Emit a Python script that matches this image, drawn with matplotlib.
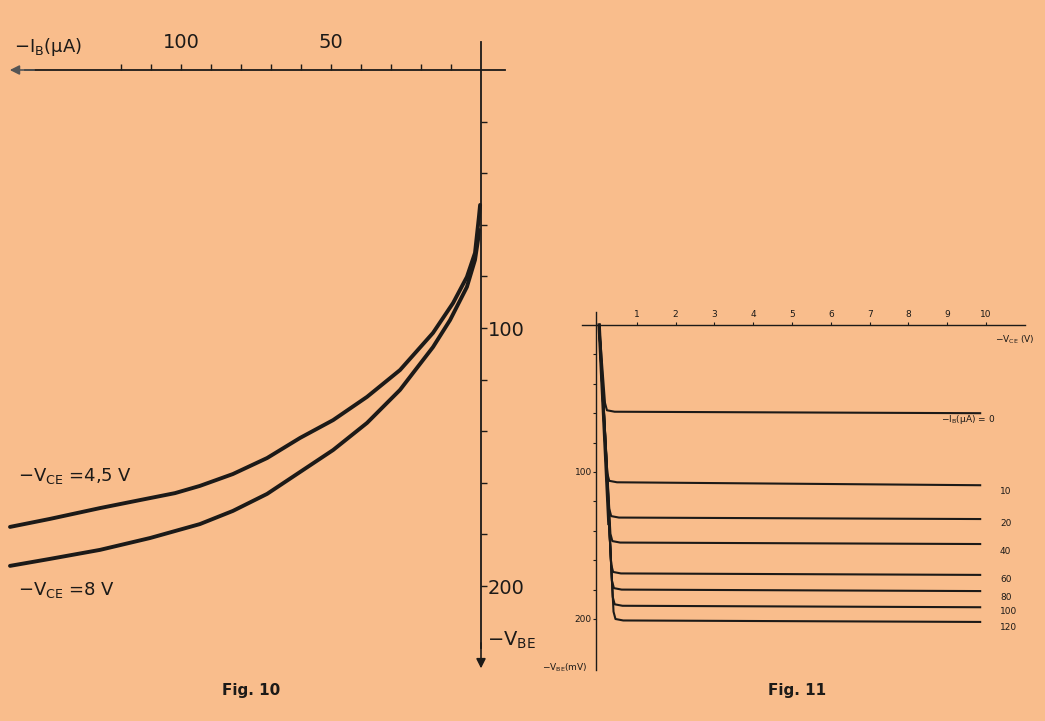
import matplotlib.pyplot as plt
import numpy as np
from matplotlib.ticker import FixedLocator

plt.rcParams['font.family'] = ['DejaVu Sans']
plt.rcParams['mathtext.default'] = 'regular'

# Fig. 10: -I_B (uA) contra -V_BE (mV)
ib_45 = [157.0, 143.7, 127.0, 113.7, 102.0, 93.7, 82.7, 71.3, 60.3, 49.3, 38.0,
         27.0, 16.0, 9.3, 4.7, 2.0, 0.7, 0.3]
vbe_45 = [177.1, 174.0, 169.8, 166.7, 164.0, 161.2, 156.6, 150.4, 142.6, 135.7, 126.7,
          116.3, 101.9, 90.3, 80.2, 70.9, 57.0, 52.3]
ib_8 = [157.0, 143.7, 127.0, 110.3, 93.7, 82.7, 71.3, 60.3, 49.3, 38.0, 27.0,
        16.0, 10.3, 4.7, 2.0, 1.0, 0.7]
vbe_8 = [192.2, 189.5, 186.0, 181.4, 176.0, 170.9, 164.3, 155.8, 147.3, 136.8, 124.0,
         107.4, 96.9, 84.1, 73.6, 65.9, 62.0]
ib_ticks = [10, 20, 30, 40, 50, 60, 70, 80, 90, 100, 110, 120]
ib_labels = [50, 100]
vbe10_ticks = [20, 40, 60, 80, 100, 120, 140, 160, 180, 200]
vbe10_labels = [100, 200]

# Fig. 11: -V_CE (V) contra -V_BE (mV) para varias -I_B
ib_curvas = ['0', '10', '20', '40', '60', '80', '100', '120']
vce_codo = [0.18, 0.24, 0.29, 0.32, 0.34, 0.36, 0.38, 0.40]
vbe_nivel = [59, 107, 131, 148, 169, 180, 191, 201]
vbe_final = [60, 109, 132, 149, 170, 181, 192, 202]
vce_fin = 9.85
vce_ticks = [1, 2, 3, 4, 5, 6, 7, 8, 9, 10]
vbe11_ticks = [20, 40, 60, 80, 100, 120, 140, 160, 180, 200]
vbe11_labels = [100, 200]

fondo = '#f9bd8c'
tinta = '#1c1a18'
W, H = 1045, 721

fig = plt.figure(figsize=(W / 100, H / 100), dpi=100, facecolor=fondo)


def fx(px):
    return px / W


def fy(py):
    return 1 - py / H


# ---------------- Fig. 10 ----------------
ax1 = fig.add_axes([0, 0, 0.5, 1])
ax1.set_facecolor('none')
ax1.set_xlim((481 - 0) / 3, (481 - 522.5) / 3)
ax1.set_ylim((721 - 70) / 2.58, (0 - 70) / 2.58)
for s in ['left', 'bottom']:
    ax1.spines[s].set_visible(False)
ax1.spines['top'].set_position(('data', 0))
ax1.spines['top'].set_bounds(-8, 152)
ax1.spines['right'].set_position(('data', 0))
ax1.spines['right'].set_bounds(-11, 224)
for s in ['top', 'right']:
    ax1.spines[s].set_linewidth(1.3)
    ax1.spines[s].set_color(tinta)

ax1.xaxis.tick_top()
ax1.xaxis.set_major_locator(FixedLocator(ib_labels))
ax1.xaxis.set_minor_locator(FixedLocator(ib_ticks))
ax1.tick_params(axis='x', which='both', direction='out', length=4, width=1, color=tinta,
                labelsize=14, labelcolor=tinta, pad=9)
ax1.yaxis.tick_right()
ax1.yaxis.set_major_locator(FixedLocator(vbe10_labels))
ax1.yaxis.set_minor_locator(FixedLocator(vbe10_ticks))
ax1.tick_params(axis='y', which='both', direction='out', length=4, width=1, color=tinta,
                labelsize=14, labelcolor=tinta, pad=1)

ax1.annotate('', xy=(158, 0), xytext=(148, 0),
             arrowprops=dict(arrowstyle='-|>', color='#555555', lw=1.2, mutation_scale=14))
ax1.annotate('', xy=(0, 233), xytext=(0, 221),
             arrowprops=dict(arrowstyle='-|>', color=tinta, lw=1.2, mutation_scale=14))

ax1.plot(ib_45, vbe_45, color=tinta, lw=2.8, solid_capstyle='round',
         solid_joinstyle='round', clip_on=False)
ax1.plot(ib_8, vbe_8, color=tinta, lw=2.8, solid_capstyle='round',
         solid_joinstyle='round', clip_on=False)

fig.text(fx(14), fy(47), r'$-I_{B}$(µA)', fontsize=13, color=tinta, va='center')
fig.text(fx(487), fy(640), r'$-V_{BE}$', fontsize=14, color=tinta, va='center')
fig.text(fx(18), fy(476), r'$-V_{CE}$ =4,5 V', fontsize=13, color=tinta, va='center')
fig.text(fx(18), fy(590), r'$-V_{CE}$ =8 V', fontsize=13, color=tinta, va='center')
fig.text(fx(222), fy(690), 'Fig. 10', fontsize=11, color=tinta, va='center',
         fontweight='bold')

# ---------------- Fig. 11 ----------------
ax2 = fig.add_axes([0.5, 0, 0.5, 1])
ax2.set_facecolor('none')
ax2.set_xlim((522.5 - 598) / 38.8, (1045 - 598) / 38.8)
ax2.set_ylim((721 - 325) / 1.47, (0 - 325) / 1.47)
for s in ['right', 'bottom']:
    ax2.spines[s].set_visible(False)
ax2.spines['top'].set_position(('data', 0))
ax2.spines['top'].set_bounds(-0.4, 11.0)
ax2.spines['left'].set_position(('data', -0.05))
ax2.spines['left'].set_bounds(-9, 235)
for s in ['top', 'left']:
    ax2.spines[s].set_linewidth(1.0)
    ax2.spines[s].set_color(tinta)

ax2.xaxis.tick_top()
ax2.xaxis.set_major_locator(FixedLocator(vce_ticks))
ax2.tick_params(axis='x', which='both', direction='out', length=2, width=0.8, color=tinta,
                labelsize=6.5, labelcolor=tinta, pad=2)
ax2.yaxis.set_major_locator(FixedLocator(vbe11_labels))
ax2.yaxis.set_minor_locator(FixedLocator(vbe11_ticks))
ax2.tick_params(axis='y', which='both', direction='out', length=2, width=0.8, color=tinta,
                labelsize=6.5, labelcolor=tinta, pad=1)

for nombre, vk, nivel, fin in zip(ib_curvas, vce_codo, vbe_nivel, vbe_final):
    xs = [0.03, vk, vk + 0.05, vk + 0.25, vce_fin]
    ys = [0, nivel - 6, nivel - 1, nivel, fin]
    ax2.plot(xs, ys, color=tinta, lw=1.5, clip_on=False)

# tramo común grueso cerca del origen
ax2.plot([0.03, 0.28], [0, 135], color=tinta, lw=2.4, clip_on=False)

pos_etiq = [420, 491, 524, 551, 579, 598, 612, 628]
for nombre, py in zip(ib_curvas, pos_etiq):
    if nombre == '0':
        fig.text(fx(995), fy(py), r'$-I_{B}$(µA) = 0', fontsize=6.5, color=tinta,
                 va='center', ha='right')
    else:
        fig.text(fx(1000), fy(py), nombre, fontsize=6.5, color=tinta,
                 va='center', ha='left')

fig.text(fx(995), fy(340), r'$-V_{CE}$ (V)', fontsize=6.5, color=tinta, va='center')
fig.text(fx(542), fy(668), r'$-V_{BE}$(mV)', fontsize=6.5, color=tinta, va='center')
fig.text(fx(768), fy(690), 'Fig. 11', fontsize=11, color=tinta, va='center',
         fontweight='bold')

fig.savefig('out.png', dpi=100, facecolor=fondo)
